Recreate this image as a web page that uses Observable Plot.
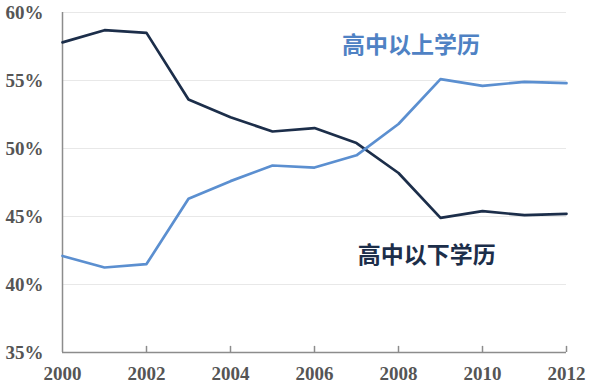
<!DOCTYPE html>
<html><head><meta charset="utf-8">
<script src="https://cdn.jsdelivr.net/npm/d3@7"></script>
<script src="https://cdn.jsdelivr.net/npm/@observablehq/plot@0.6"></script>
<style>body{margin:0;background:#fff}</style>
</head><body><div id="chart"></div>
<script>
const years = [2000,2001,2002,2003,2004,2005,2006,2007,2008,2009,2010,2011,2012];
const below = [57.8,58.7,58.5,53.6,52.3,51.25,51.5,50.4,48.2,44.9,45.4,45.1,45.2];
const above = [42.1,41.25,41.5,46.3,47.6,48.75,48.6,49.5,51.8,55.1,54.6,54.9,54.8];
const seriesNames = ["高中以下学历","高中以上学历"];
const xTicks = [2000,2002,2004,2006,2008,2010,2012];
const yTicks = [35,40,45,50,55,60];
const labelPos = [{name:"高中以上学历", x:2008.3, y:57.6},{name:"高中以下学历", x:2008.67, y:42.1}];

const rows = [];
years.forEach((y,i)=>{rows.push({year:y,v:below[i],s:seriesNames[0]});rows.push({year:y,v:above[i],s:seriesNames[1]});});

const plot = Plot.plot({
  width:599, height:387,
  marginLeft:62, marginRight:33, marginTop:12, marginBottom:35,
  style:{fontFamily:"'Liberation Serif', serif", fontWeight:"bold", fontSize:"19px", color:"#555", background:"#fff"},
  x:{domain:[2000,2012]},
  y:{domain:[35,60]},
  marks:[
    Plot.ruleY(yTicks.filter(d=>d>35), {stroke:"#e8e8e8", strokeWidth:1.2}),
    Plot.ruleX([2000], {stroke:"#8c8c8c", strokeWidth:1.5}),
    Plot.ruleY([35], {stroke:"#8c8c8c", strokeWidth:1.5}),
    Plot.ruleX(xTicks.slice(1), {y1:35, y2:35.45, stroke:"#8c8c8c", strokeWidth:1.5}),
    Plot.axisX({ticks:xTicks, tickFormat:d=>String(d), tickSize:0, tickPadding:14, label:null, fontSize:19}),
    Plot.axisY({ticks:yTicks, tickFormat:d=>d+"%", tickSize:0, tickPadding:19, label:null, fontSize:19}),
    Plot.line(rows, {x:"year", y:"v", z:"s", stroke:"s", strokeWidth:2.7}),
    Plot.text(labelPos, {x:"x", y:"y", text:"name", fill:d=>d.name===seriesNames[1]?"#4f82c4":"#1c2e4a",
      fontFamily:"'Noto Sans CJK SC', sans-serif", fontSize:23, fontWeight:d=>d.name===seriesNames[1]?"500":"bold"})
  ],
  color:{domain:seriesNames, range:["#1c2e4a","#5b8fd0"]}
});
document.getElementById("chart").appendChild(plot);
</script></body></html>
